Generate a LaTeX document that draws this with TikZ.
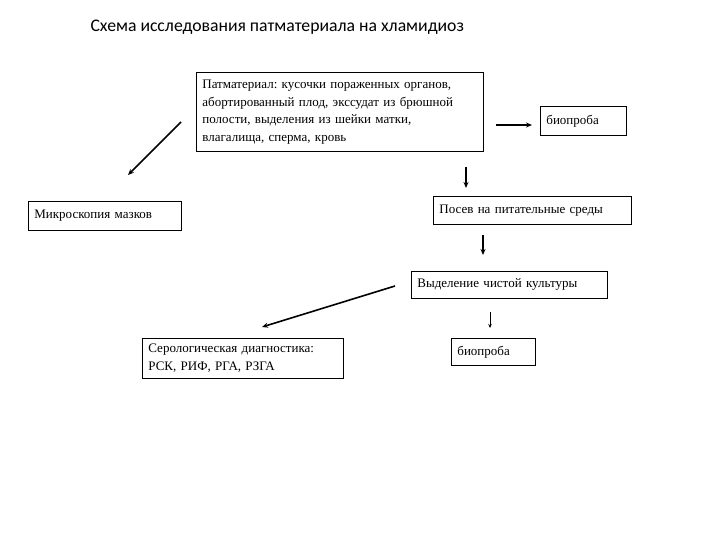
\documentclass[tikz,border=0pt]{standalone}
\usepackage{fontspec}
\setmainfont{Liberation Serif}
\newfontfamily\titlefont{Carlito}
\usetikzlibrary{arrows.meta}
\frenchspacing
\tikzset{
  box/.style={draw, line width=0.8pt, rectangle, anchor=north west, inner xsep=6pt, inner ysep=0pt,
    align=left, font=\fontsize{13}{17.5}\selectfont},
  arr/.style={line width=1.6pt, -{Stealth[length=6pt,width=5pt]}},
  thinarr/.style={line width=0.8pt, -{Stealth[length=4pt,width=3.5pt]}}
}
\begin{document}
\begin{tikzpicture}[x=1pt,y=-1pt]
\useasboundingbox (0,0) rectangle (720,540);
\node[font=\titlefont\fontsize{17.7}{20}\selectfont, anchor=west] (title) at (87,27) {Схема исследования патматериала на хламидиоз};

\node[box, minimum width=287pt, minimum height=79pt, text width=275pt] (mat) at (196,72)
  {Патматериал: кусочки пораженных органов,\\абортированный плод, экссудат из брюшной\\полости, выделения из шейки матки,\\влагалища, сперма, кровь};
\node[box, minimum width=86pt, minimum height=29pt, text width=74pt] (bio1) at (540,106) {биопроба};
\node[box, minimum width=153pt, minimum height=29pt, text width=141pt] (micro) at (28,201) {Микроскопия мазков};
\node[box, minimum width=198pt, minimum height=28pt, text width=186pt] (posev) at (433,196) {Посев на питательные среды};
\node[box, minimum width=196pt, minimum height=27pt, text width=184pt] (vyd) at (411,271) {Выделение чистой культуры};
\node[box, minimum width=201pt, minimum height=40pt, text width=189pt] (sero) at (142,338) {Серологическая диагностика:\\РСК, РИФ, РГА, РЗГА};
\node[box, minimum width=84pt, minimum height=27pt, text width=72pt] (bio2) at (451,338) {биопроба};

\coordinate (h1) at (496,125);
\coordinate (h2) at (532,125);
\coordinate (d1) at (181,122);
\coordinate (d2) at (128,175);
\coordinate (v1) at (466,167);
\coordinate (v2) at (466,188);
\coordinate (v3) at (483,235);
\coordinate (v4) at (483,255);
\coordinate (d3) at (395,286);
\coordinate (d4) at (262,327);
\coordinate (v5) at (490,312);
\coordinate (v6) at (490,328);

\draw[arr] (h1) -- (h2);
\draw[arr] (d1) -- (d2);
\draw[arr] (v1) -- (v2);
\draw[arr] (v3) -- (v4);
\draw[arr] (d3) -- (d4);
\draw[thinarr] (v5) -- (v6);
\end{tikzpicture}
\end{document}
